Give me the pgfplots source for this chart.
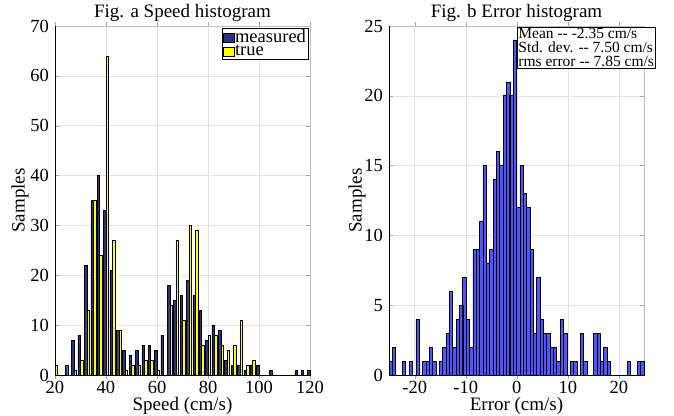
\documentclass[border=0pt]{standalone}
\usepackage{fontspec}
\setmainfont{Liberation Serif}
\usepackage{pgfplots}
\pgfplotsset{compat=1.18}

\definecolor{meas}{rgb}{0.19,0.19,0.50}
\definecolor{tru}{rgb}{1,1,0}
\definecolor{errb}{rgb}{0.33,0.33,1}

\pgfplotsset{
  matstyle/.style={
    scale only axis, width=255pt, height=349pt,
    anchor=south west,
    axis line style={gray!50},
    grid=major, grid style={gray!22, line width=0.5pt},
    tick align=inside, major tick length=4pt, tick style={gray!70},
    ymin=0,
    /pgf/number format/assume math mode=true,
    tick label style={font=\fontsize{18.5}{18.5}\selectfont},
    xticklabel style={anchor=base, yshift=-14pt, inner sep=0pt},
    yticklabel style={xshift=-2.5pt},
    label style={font=\fontsize{19}{19}\selectfont},
    xlabel style={at={(axis description cs:0.5,0)}, anchor=base, yshift=-35.5pt, inner sep=0pt},
    title style={font=\fontsize{19}{19}\selectfont, yshift=-5pt},
    clip=false,
  },
}

\begin{document}
\begin{tikzpicture}
\useasboundingbox (0,0) rectangle (674pt,415pt);

% Fig. a
\begin{axis}[matstyle, at={(55pt,40pt)},
  xmin=20, xmax=120, ymax=70,
  xtick={20,40,...,120}, ytick={0,10,...,70},
  title={Fig. a Speed histogram},
  xlabel={Speed (cm/s)}, ylabel={Samples}, ylabel shift=-5pt,
  ybar=0pt, bar width=2.5pt,
  every axis plot post/.append style={
    legend image code/.code={\draw[##1,draw=black,line width=0.5pt] (0pt,-4.5pt) rectangle (11pt,4.5pt);}},
  legend style={at={(rel axis cs:0.992,0.994)}, anchor=north east,
    draw=black, fill=white, inner sep=1.5pt, row sep=0.5pt,
    nodes={inner sep=0.3pt},
    font=\fontsize{18.5}{16}\selectfont},
  legend cell align=left,
]
\addplot[fill=meas, draw=black, line width=0.45pt] coordinates {
  (22.5,0) (25,2) (27.5,7) (30,8) (32.5,22) (35,35) (37.5,40) (40,33)
  (42.5,21) (45,9) (47.5,5) (50,4) (52.5,5) (55,6) (57.5,6) (60,5)
  (62.5,8) (65,18) (67.5,15) (70,16) (72.5,19) (75,16) (77.5,13) (80,7)
  (82.5,10) (85,9) (87.5,3) (90,2) (92.5,2) (95,1) (97.5,2) (100,2)
  (102.5,0) (105,1) (107.5,0) (110,0) (112.5,0) (115,1) (117.5,1) (120,1)
};
\addplot[fill=tru, draw=black, line width=0.45pt] coordinates {
  (20,2) (22.5,0) (25,0) (27.5,1) (30,3) (32.5,13) (35,35) (37.5,24) (40,64)
  (42.5,27) (45,9) (47.5,1) (50,2) (52.5,2) (55,3) (57.5,3) (60,1)
  (62.5,0) (65,14) (67.5,27) (70,11) (72.5,30) (75,29) (77.5,6) (80,8)
  (82.5,8) (85,6) (87.5,5) (90,6) (92.5,11) (95,2) (97.5,3) (100,0)
  (102.5,0) (105,0) (107.5,0) (110,0) (112.5,0) (115,0) (117.5,0)
};
\legend{measured, true}
\draw[black, line width=0.8pt] (rel axis cs:0,1) -- (rel axis cs:0,0) -- (rel axis cs:1,0);
\end{axis}

% Fig. b
\begin{axis}[matstyle, at={(389pt,40pt)},
  xmin=-25.04, xmax=24.9, ymax=25,
  xtick={-20,-10,0,10,20}, ytick={0,5,...,25},
  title={Fig. b Error histogram},
  xlabel={Error (cm/s)}, ylabel={Samples}, ylabel shift=-8pt,
  ybar, bar width=0.6571,
]
\addplot[fill=errb, draw=black, line width=0.6pt] coordinates {
  (-24.71,1) (-24.05,2) (-23.40,0) (-22.74,0) (-22.08,1) (-21.43,0)
  (-20.77,1) (-20.11,0) (-19.46,4) (-18.80,0) (-18.14,1) (-17.48,1)
  (-16.83,2) (-16.17,1) (-15.51,0) (-14.86,1) (-14.20,2) (-13.54,3)
  (-12.88,6) (-12.23,2) (-11.57,4) (-10.91,5) (-10.26,7) (-9.60,4)
  (-8.94,2) (-8.28,9) (-7.63,9) (-6.97,11) (-6.31,15) (-5.66,8)
  (-5.00,9) (-4.34,14) (-3.68,16) (-3.03,15) (-2.37,20) (-1.71,21)
  (-1.06,20) (-0.40,24) (0.26,12) (0.92,15) (1.57,13) (2.23,12)
  (2.89,9) (3.54,3) (4.20,7) (4.86,4) (5.52,3) (6.17,3)
  (6.83,2) (7.49,2) (8.14,1) (8.80,4) (9.46,3) (10.12,0)
  (10.77,1) (11.43,1) (12.09,0) (12.74,3) (13.40,1) (14.06,0)
  (14.71,0) (15.37,3) (16.03,3) (16.69,1) (17.34,2) (18.00,1)
  (18.66,0) (19.31,0) (19.97,0) (20.63,0) (21.28,0) (21.94,1)
  (22.60,0) (23.26,0) (23.91,1) (24.57,1)
};
\draw[black, line width=0.8pt] (rel axis cs:0,1) -- (rel axis cs:0,0) -- (rel axis cs:1,0);
\end{axis}

\node[draw=black, fill=white, inner sep=1.2pt, anchor=north west, align=left,
  font=\fontsize{15.5}{14}\selectfont] at (517pt,388pt)
  {Mean -{}- -2.35 cm/s\\Std. dev. -{}- 7.50 cm/s\\rms error -{}- 7.85 cm/s};
\end{tikzpicture}
\end{document}
